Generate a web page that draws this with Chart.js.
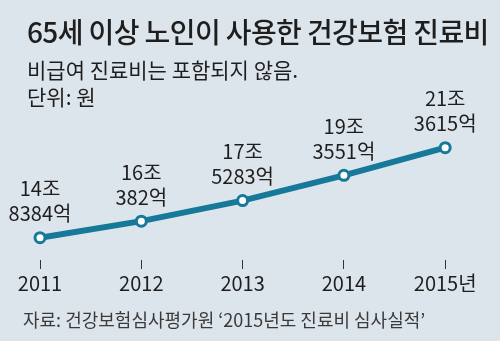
<!DOCTYPE html>
<html>
<head>
<meta charset="utf-8">
<script src="https://cdn.jsdelivr.net/npm/chart.js@4"></script>
<style>
  html, body { margin: 0; padding: 0; }
  body { width: 500px; height: 341px; background: #dde5ec; position: relative; overflow: hidden;
         font-family: "Noto Sans CJK KR", "Noto Sans", sans-serif; color: #1e1e1e; }
  #wrap { position: absolute; left: 0; top: 0; width: 500px; height: 341px; }
  .txt { position: absolute; left: 27px; white-space: nowrap; line-height: 1; }
  #title { top: 17px; font-size: 28px; font-weight: 500; letter-spacing: -0.6px; }
  #sub1 { top: 59px; font-size: 21px; }
  #sub2 { top: 86px; font-size: 21px; }
  #source { top: 310px; left: 23px; font-size: 18px; color: #3a3a3a; }
</style>
</head>
<body>
<div id="wrap"><canvas id="chart"></canvas></div>
<div class="txt" id="title">65세 이상 노인이 사용한 건강보험 진료비</div>
<div class="txt" id="sub1">비급여 진료비는 포함되지 않음.</div>
<div class="txt" id="sub2">단위: 원</div>
<div class="txt" id="source">자료: 건강보험심사평가원 ‘2015년도 진료비 심사실적’</div>
<script>
// 데이터 (단위: 조원)
const years = [2011, 2012, 2013, 2014, 2015];
const yearLabels = ['2011', '2012', '2013', '2014', '2015년'];
const values = [14.8384, 16.0382, 17.5283, 19.3551, 21.3615];
const joLabels = ['14조', '16조', '17조', '19조', '21조'];
const eokLabels = ['8384억', '382억', '5283억', '3551억', '3615억'];

const lineColor = '#16799a';

// 점 위에 두 줄 라벨
const pointLabels = {
  id: 'pointLabels',
  afterDatasetsDraw(chart) {
    const c = chart.ctx;
    const meta = chart.getDatasetMeta(0);
    c.save();
    c.font = '20px "Noto Sans CJK KR", sans-serif';
    c.fillStyle = '#1e1e1e';
    c.textAlign = 'center';
    c.textBaseline = 'middle';
    meta.data.forEach((pt, i) => {
      c.fillText(joLabels[i], pt.x, pt.y - 49);
      c.fillText(eokLabels[i], pt.x, pt.y - 24);
    });
    c.restore();
  }
};

new Chart(document.getElementById('chart').getContext('2d'), {
  type: 'line',
  data: {
    datasets: [{
      data: years.map((y, i) => ({ x: y, y: values[i] })),
      borderColor: lineColor,
      borderWidth: 6,
      pointRadius: 5,
      pointBorderWidth: 3,
      pointBackgroundColor: '#ffffff',
      pointBorderColor: lineColor,
      tension: 0,
      clip: false
    }]
  },
  options: {
    responsive: true,
    maintainAspectRatio: false,
    animation: false,
    layout: { autoPadding: false, padding: { top: 100, left: 0, right: 0, bottom: 44 } },
    plugins: {
      legend: { display: false },
      tooltip: { enabled: false }
    },
    scales: {
      x: {
        type: 'linear',
        min: 2010.605,
        max: 2015.541,
        afterBuildTicks: axis => { axis.ticks = years.map(v => ({ value: v })); },
        border: { display: false },
        grid: {
          drawOnChartArea: false,
          drawTicks: true,
          tickLength: 9,
          tickWidth: 1,
          tickColor: '#333'
        },
        ticks: {
          padding: 2,
          maxRotation: 0,
          color: '#1e1e1e',
          font: { family: '"Noto Sans CJK KR", sans-serif', size: 20 },
          callback: (v) => yearLabels[years.indexOf(v)]
        }
      },
      y: {
        display: false,
        min: 13.225,
        max: 24.81
      }
    }
  },
  plugins: [pointLabels]
});
</script>
</body>
</html>
